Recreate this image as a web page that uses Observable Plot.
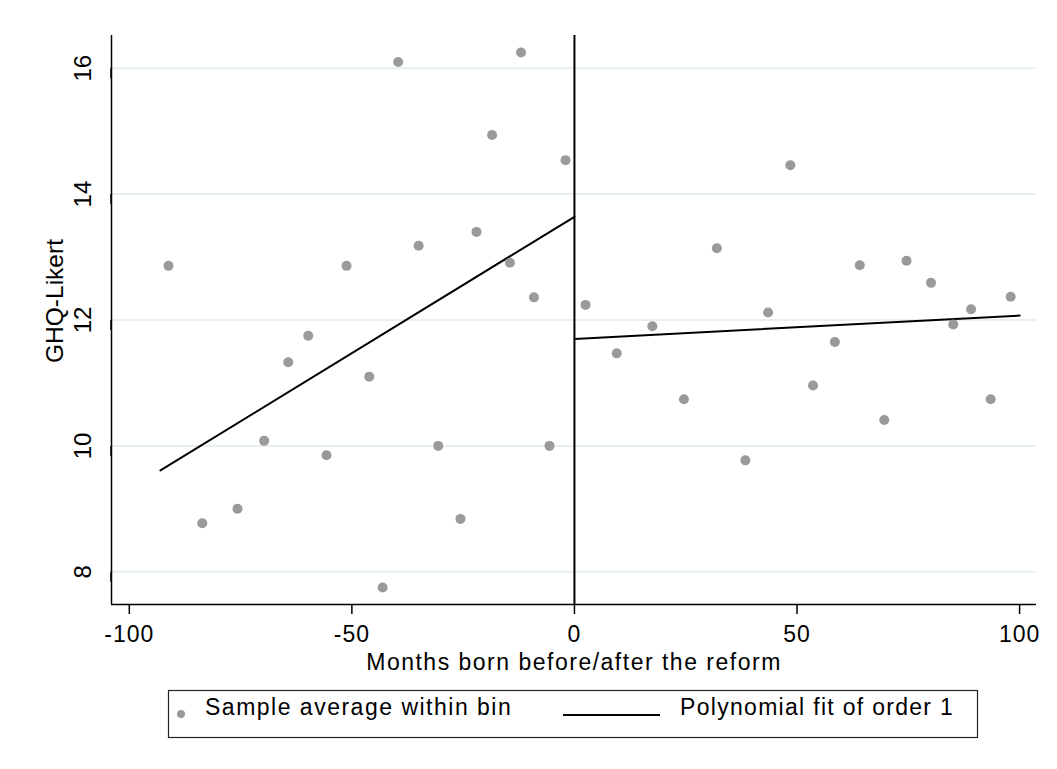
<!DOCTYPE html>
<html>
<head>
<meta charset="utf-8">
<script src="https://cdn.jsdelivr.net/npm/d3@7"></script>
<script src="https://cdn.jsdelivr.net/npm/@observablehq/plot@0.6"></script>
<style>
  body { margin: 0; background: #fff; font-family: "Liberation Sans", Arial, sans-serif; }
  #wrap { position: relative; width: 1057px; height: 769px; background: #fff; }
  #chart svg { display: block; }
  #legend { display: block; }
  #chart g[aria-label="x-axis tick label"] text { letter-spacing: 1px; }
</style>
</head>
<body>
<div id="wrap">
  <div id="chart"></div>
  <svg id="legend" width="1057" height="89" xmlns="http://www.w3.org/2000/svg"></svg>
</div>
<script>
// Binned sample averages, before the reform (months < 0)
const beforeMonths = [-91.2, -83.6, -75.7, -69.7, -64.3, -59.8, -55.7, -51.2, -46.1, -43.1, -39.6, -35.0, -30.6, -25.6, -22.0, -18.5, -14.5, -12.0, -9.1, -5.6, -2.0];
const beforeGHQ    = [12.86, 8.77, 9.00, 10.08, 11.33, 11.75, 9.85, 12.86, 11.10, 7.75, 16.10, 13.18, 10.00, 8.84, 13.40, 14.94, 12.91, 16.25, 12.36, 10.00, 14.54];
// Binned sample averages, after the reform (months > 0)
const afterMonths  = [2.5, 9.5, 17.5, 24.6, 32.0, 38.4, 43.5, 48.5, 53.6, 58.5, 64.1, 69.6, 74.6, 80.1, 85.1, 89.1, 93.5, 98.0];
const afterGHQ     = [12.24, 11.47, 11.90, 10.74, 13.14, 9.77, 12.12, 14.46, 10.96, 11.65, 12.87, 10.41, 12.94, 12.59, 11.93, 12.17, 10.74, 12.37];
// Linear fits on each side
const fitBeforeMonths = [-93.0, 0];
const fitBeforeGHQ    = [9.61, 13.64];
const fitAfterMonths  = [0, 100];
const fitAfterGHQ     = [11.70, 12.07];
// Ticks and labels
const xTicks = [-100, -50, 0, 50, 100];
const yTicks = [8, 10, 12, 14, 16];
const xTitle = "Months born before/after the reform";
const yTitle = "GHQ-Likert";
const legendLabels = ["Sample average within bin", "Polynomial fit of order 1"];

const points = beforeMonths.map((x, i) => ({x, y: beforeGHQ[i]}))
  .concat(afterMonths.map((x, i) => ({x, y: afterGHQ[i]})));
const fitBefore = fitBeforeMonths.map((x, i) => ({x, y: fitBeforeGHQ[i]}));
const fitAfter = fitAfterMonths.map((x, i) => ({x, y: fitAfterGHQ[i]}));

const FONT = "'Liberation Sans', Arial, sans-serif";
const xDomain = [-104, 103.8];
const yDomain = [7.48, 16.52];

const chart = Plot.plot({
  width: 1057,
  height: 680,
  marginLeft: 111,
  marginRight: 21,
  marginTop: 35,
  marginBottom: 76,
  style: { fontFamily: FONT, background: "#fff", color: "#000", overflow: "visible" },
  x: { domain: xDomain },
  y: { domain: yDomain },
  marks: [
    Plot.gridY(yTicks, { stroke: "#e6eff1", strokeOpacity: 1, strokeWidth: 2 }),
    Plot.ruleX([0], { stroke: "#000", strokeWidth: 2 }),
    Plot.line(fitBefore, { x: "x", y: "y", stroke: "#000", strokeWidth: 2 }),
    Plot.line(fitAfter, { x: "x", y: "y", stroke: "#000", strokeWidth: 2 }),
    Plot.dot(points, { x: "x", y: "y", r: 5, fill: "#9a9a9a", stroke: "none" }),
    Plot.ruleY([yDomain[0]], { stroke: "#000", strokeWidth: 1.5 }),
    Plot.ruleX([xDomain[0]], { stroke: "#000", strokeWidth: 1.5 }),
    Plot.axisX(xTicks, { tickSize: 10, tickPadding: 11.5, fontSize: 23, label: null, stroke: "#000", strokeWidth: 1.5, tickFormat: d => String(d) }),
    Plot.axisY(yTicks, { tickSize: 10, tickPadding: 11, fontSize: 24, rotate: -90, textAnchor: "middle", lineAnchor: "bottom", label: null, stroke: "#000", strokeWidth: 1.5, tickFormat: d => String(d) }),
    Plot.text([xTitle], { frameAnchor: "bottom", lineAnchor: "bottom", dy: 65, fontSize: 23, fill: "#000" }),
    Plot.text([yTitle], { frameAnchor: "left", lineAnchor: "bottom", textAnchor: "middle", rotate: -90, dx: -49, dy: -19, fontSize: 24.5, fill: "#000" })
  ]
});
document.getElementById("chart").appendChild(chart);
// widen the horizontal title like the reference's lettering
d3.select(chart).selectAll("text").filter(function () { return this.textContent === xTitle; })
  .attr("letter-spacing", "1.5px");

// Legend below the chart
const lg = d3.select("#legend");
lg.append("rect").attr("x", 168.5).attr("y", 10.5).attr("width", 809).attr("height", 47)
  .attr("fill", "#fff").attr("stroke", "#222").attr("stroke-width", 1.2);
lg.append("circle").attr("cx", 181).attr("cy", 34).attr("r", 4).attr("fill", "#9a9a9a");
lg.append("text").attr("x", 205).attr("y", 34.5).attr("font-size", 23).attr("font-family", FONT)
  .attr("letter-spacing", "1.5px").attr("fill", "#000").text(legendLabels[0]);
lg.append("line").attr("x1", 563).attr("x2", 660).attr("y1", 35).attr("y2", 35)
  .attr("stroke", "#000").attr("stroke-width", 2);
lg.append("text").attr("x", 680).attr("y", 34.5).attr("font-size", 23).attr("font-family", FONT)
  .attr("letter-spacing", "1.3px").attr("fill", "#000").text(legendLabels[1]);
</script>
</body>
</html>
